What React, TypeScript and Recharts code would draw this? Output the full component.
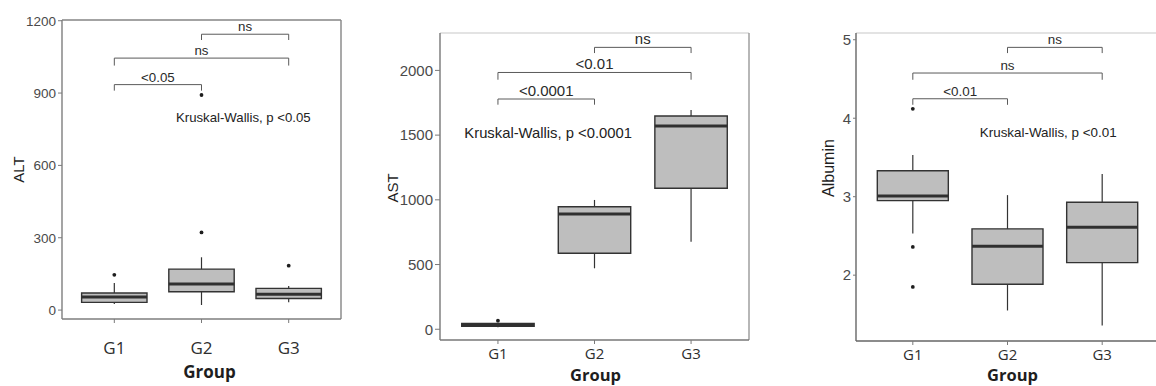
import React from 'react';
import { ComposedChart, XAxis, YAxis, Scatter, ReferenceArea, ReferenceLine } from 'recharts';

const groups = ['G1', 'G2', 'G3'];

// ---- ALT ----
const altLow = [25, 21, 32];
const altQ1 = [32, 76, 48];
const altMedian = [54, 108, 66];
const altQ3 = [71, 170, 90];
const altHigh = [112, 219, 100];
const altOutliers = [
  { g: 1, v: 146 },
  { g: 2, v: 322 },
  { g: 2, v: 892 },
  { g: 3, v: 184 },
];
const altTicks = [0, 300, 600, 900, 1200];
const altBrackets = [
  { from: 1, to: 2, y: 935, tip: 910, label: '<0.05' },
  { from: 1, to: 3, y: 1045, tip: 1014, label: 'ns' },
  { from: 2, to: 3, y: 1144, tip: 1120, label: 'ns' },
];
const altTest = { g: 2.48, v: 800, label: 'Kruskal-Wallis, p <0.05' };

// ---- AST ----
const astLow = [16, 471, 677];
const astQ1 = [22, 587, 1090];
const astMedian = [32, 891, 1571];
const astQ3 = [45, 947, 1648];
const astHigh = [50, 999, 1695];
const astOutliers = [{ g: 1, v: 66 }];
const astTicks = [0, 500, 1000, 1500, 2000];
const astBrackets = [
  { from: 1, to: 2, y: 1779, tip: 1735, label: '<0.0001' },
  { from: 1, to: 3, y: 1984, tip: 1928, label: '<0.01' },
  { from: 2, to: 3, y: 2178, tip: 2134, label: 'ns' },
];
const astTest = { g: 1.52, v: 1519, label: 'Kruskal-Wallis, p <0.0001' };

// ---- Albumin ----
const albLow = [2.53, 1.55, 1.36];
const albQ1 = [2.95, 1.885, 2.16];
const albMedian = [3.01, 2.37, 2.61];
const albQ3 = [3.33, 2.59, 2.93];
const albHigh = [3.53, 3.02, 3.29];
const albOutliers = [
  { g: 1, v: 4.12 },
  { g: 1, v: 2.36 },
  { g: 1, v: 1.85 },
];
const albTicks = [2, 3, 4, 5];
const albBrackets = [
  { from: 1, to: 2, y: 4.248, tip: 4.171, label: '<0.01' },
  { from: 1, to: 3, y: 4.576, tip: 4.49, label: 'ns' },
  { from: 2, to: 3, y: 4.903, tip: 4.83, label: 'ns' },
];
const albTest = { g: 2.43, v: 3.82, label: 'Kruskal-Wallis, p <0.01' };

const ARIAL = '"Liberation Sans", Arial, sans-serif';
const SANS = '"Open Sans", "Noto Sans", sans-serif';

type Bracket = { from: number; to: number; y: number; tip: number; label: string };

type PanelCfg = {
  left: number;
  width: number;
  height: number;
  margin: { top: number; right: number; bottom: number; left: number };
  yAxisWidth: number;
  xAxisHeight: number;
  yDomain: [number, number];
  yTicks: number[];
  low: number[];
  q1: number[];
  med: number[];
  q3: number[];
  high: number[];
  outliers: { g: number; v: number }[];
  brackets: Bracket[];
  test: { g: number; v: number; label: string };
  yTitle: string;
  yTitleSize: number;
  yTitleDx: number;
  yTitleDy: number;
  xTitleDx: number;
  xTitleBase: number;
  xTitleSize: number;
  yTickSize: number;
  yTickMargin: number;
  xTickSize: number;
  xTickMargin: number;
  yTickFont: number;
  xTickFont: number;
  labelFont: number;
  testFont: number;
  leftColor: string;
  bottomColor: string;
  topColor: string;
  rightColor: string;
};

const panels: PanelCfg[] = [
  {
    left: 0, width: 380, height: 386,
    margin: { top: 20, right: 39, bottom: 7, left: 22 },
    yAxisWidth: 40, xAxisHeight: 60,
    yDomain: [-37, 1203], yTicks: altTicks,
    low: altLow, q1: altQ1, med: altMedian, q3: altQ3, high: altHigh,
    outliers: altOutliers, brackets: altBrackets, test: altTest,
    yTitle: 'ALT', yTitleSize: 15, yTitleDx: -4, yTitleDy: 0,
    xTitleDx: 8, xTitleBase: 59, xTitleSize: 17,
    yTickSize: 4, yTickMargin: 2, xTickSize: 4, xTickMargin: 19,
    yTickFont: 13.5, xTickFont: 17, labelFont: 13.3, testFont: 13.2,
    leftColor: '#7e7e7e', bottomColor: '#7e7e7e', topColor: '#858585', rightColor: '#858585',
  },
  {
    left: 380, width: 400, height: 386,
    margin: { top: 33, right: 31, bottom: 6, left: 10 },
    yAxisWidth: 50, xAxisHeight: 40,
    yDomain: [-83, 2289], yTicks: astTicks,
    low: astLow, q1: astQ1, med: astMedian, q3: astQ3, high: astHigh,
    outliers: astOutliers, brackets: astBrackets, test: astTest,
    yTitle: 'AST', yTitleSize: 15, yTitleDx: 2, yTitleDy: 1.5,
    xTitleDx: 1, xTitleBase: 41, xTitleSize: 16.5,
    yTickSize: 5, yTickMargin: 2, xTickSize: 4, xTickMargin: 4,
    yTickFont: 15, xTickFont: 15, labelFont: 15, testFont: 14.8,
    leftColor: '#777777', bottomColor: '#777777', topColor: '#dadada', rightColor: '#999999',
  },
  {
    left: 770, width: 395, height: 386,
    margin: { top: 33, right: 6, bottom: 5, left: 46 },
    yAxisWidth: 40, xAxisHeight: 40,
    yDomain: [1.161, 5.086], yTicks: albTicks,
    low: albLow, q1: albQ1, med: albMedian, q3: albQ3, high: albHigh,
    outliers: albOutliers, brackets: albBrackets, test: albTest,
    yTitle: 'Albumin', yTitleSize: 16, yTitleDx: 12, yTitleDy: -19,
    xTitleDx: 5, xTitleBase: 40, xTitleSize: 16.5,
    yTickSize: 3, yTickMargin: 2, xTickSize: 4, xTickMargin: 4,
    yTickFont: 15, xTickFont: 15, labelFont: 13.4, testFont: 13.4,
    leftColor: '#666666', bottomColor: '#666666', topColor: '#dadada', rightColor: '#999999',
  },
];

const BOX_HALF = 0.375;
const X_DOMAIN: [number, number] = [0.4, 3.6];
const BOX_FILL = '#bebebe';
const BOX_STROKE = '#333333';
const BRACKET = '#5a5a5a';

function Panel({ cfg }: { cfg: PanelCfg }) {
  const outlierPts = cfg.outliers.map((o) => ({ x: o.g, y: o.v }));
  const annotations = [
    ...cfg.brackets.map((b) => ({ x: (b.from + b.to) / 2, y: b.y, text: b.label, kind: 'bracket' })),
    { x: cfg.test.g, y: cfg.test.v, text: cfg.test.label, kind: 'test' },
  ];

  const dotShape = (p: any) => <circle cx={p.cx} cy={p.cy} r={1.9} fill="#1e1e1e" />;
  const textShape = (p: any) => {
    const d = p.payload || {};
    if (d.kind === 'bracket') {
      return (
        <text x={p.cx} y={p.cy - 3} textAnchor="middle" fontFamily={ARIAL} fontSize={cfg.labelFont} fill="#2a2a2a">
          {d.text}
        </text>
      );
    }
    return (
      <text x={p.cx} y={p.cy} dy="0.36em" textAnchor="middle" fontFamily={ARIAL} fontSize={cfg.testFont} fill="#222">
        {d.text}
      </text>
    );
  };

  const yTitle = (props: any) => {
    const vb = props.viewBox || { x: 0, y: 0, width: 0, height: 0 };
    const x = vb.x + cfg.yTitleDx;
    const y = vb.y + vb.height / 2 + cfg.yTitleDy;
    return (
      <text
        x={x}
        y={y}
        transform={`rotate(-90 ${x} ${y})`}
        textAnchor="middle"
        dominantBaseline="central"
        fontFamily={ARIAL}
        fontSize={cfg.yTitleSize}
        fill="#1e1e1e"
      >
        {cfg.yTitle}
      </text>
    );
  };

  const xTitle = (props: any) => {
    const vb = props.viewBox || { x: 0, y: 0, width: 0, height: 0 };
    return (
      <text
        x={vb.x + vb.width / 2 + cfg.xTitleDx}
        y={vb.y + cfg.xTitleBase}
        textAnchor="middle"
        fontFamily={SANS}
        fontWeight="bold"
        fontSize={cfg.xTitleSize}
        fill="#1e1e1e"
      >
        Group
      </text>
    );
  };

  const xTick = (p: any) => {
    const idx = Math.round(p.payload.value) - 1;
    return (
      <text
        x={p.x}
        y={p.y}
        dy="0.71em"
        textAnchor="middle"
        fontFamily={SANS}
        fontSize={cfg.xTickFont}
        fill="#2e2e2e"
      >
        {groups[idx]}
      </text>
    );
  };

  return (
    <div style={{ position: 'absolute', left: cfg.left, top: 0, width: cfg.width, height: cfg.height }}>
      <ComposedChart width={cfg.width} height={cfg.height} margin={cfg.margin}>
        <XAxis
          type="number"
          dataKey="x"
          domain={X_DOMAIN}
          ticks={[1, 2, 3]}
          allowDataOverflow
          height={cfg.xAxisHeight}
          tick={xTick}
          tickSize={cfg.xTickSize}
          tickMargin={cfg.xTickMargin}
          tickLine={{ stroke: '#7a7a7a' }}
          axisLine={{ stroke: cfg.bottomColor, strokeWidth: 1.4 }}
          label={xTitle}
        />
        <YAxis
          type="number"
          dataKey="y"
          domain={cfg.yDomain}
          ticks={cfg.yTicks}
          allowDataOverflow
          width={cfg.yAxisWidth}
          tick={{ fill: '#4a4a4a', fontSize: cfg.yTickFont, fontFamily: ARIAL }}
          tickSize={cfg.yTickSize}
          tickMargin={cfg.yTickMargin}
          tickLine={{ stroke: '#7a7a7a' }}
          axisLine={{ stroke: cfg.leftColor, strokeWidth: 1.4 }}
          label={yTitle}
        />
        <ReferenceLine y={cfg.yDomain[1]} stroke={cfg.topColor} strokeWidth={1.4} />
        <ReferenceLine x={X_DOMAIN[1]} stroke={cfg.rightColor} strokeWidth={1.4} />

        {groups.map((g, i) => (
          <React.Fragment key={g}>
            <ReferenceLine
              segment={[{ x: i + 1, y: cfg.low[i] }, { x: i + 1, y: cfg.q1[i] }]}
              stroke={BOX_STROKE}
              strokeWidth={1.2}
            />
            <ReferenceLine
              segment={[{ x: i + 1, y: cfg.q3[i] }, { x: i + 1, y: cfg.high[i] }]}
              stroke={BOX_STROKE}
              strokeWidth={1.2}
            />
            <ReferenceArea
              x1={i + 1 - BOX_HALF}
              x2={i + 1 + BOX_HALF}
              y1={cfg.q1[i]}
              y2={cfg.q3[i]}
              fill={BOX_FILL}
              fillOpacity={1}
              stroke={BOX_STROKE}
              strokeWidth={1.4}
            />
            <ReferenceLine
              segment={[{ x: i + 1 - BOX_HALF, y: cfg.med[i] }, { x: i + 1 + BOX_HALF, y: cfg.med[i] }]}
              stroke="#303030"
              strokeWidth={3}
            />
          </React.Fragment>
        ))}

        {cfg.brackets.map((b, i) => (
          <React.Fragment key={'b' + i}>
            <ReferenceLine segment={[{ x: b.from, y: b.y }, { x: b.to, y: b.y }]} stroke={BRACKET} strokeWidth={1} />
            <ReferenceLine segment={[{ x: b.from, y: b.tip }, { x: b.from, y: b.y }]} stroke={BRACKET} strokeWidth={1} />
            <ReferenceLine segment={[{ x: b.to, y: b.tip }, { x: b.to, y: b.y }]} stroke={BRACKET} strokeWidth={1} />
          </React.Fragment>
        ))}

        <Scatter data={outlierPts} dataKey="y" shape={dotShape} isAnimationActive={false} />
        <Scatter data={annotations} dataKey="y" shape={textShape} isAnimationActive={false} />
      </ComposedChart>
    </div>
  );
}

export default function App() {
  return (
    <div
      style={{
        position: 'absolute',
        left: 0,
        top: 0,
        width: 1156,
        height: 386,
        overflow: 'hidden',
        background: '#fff',
      }}
    >
      {panels.map((p, i) => (
        <Panel key={i} cfg={p} />
      ))}
    </div>
  );
}
